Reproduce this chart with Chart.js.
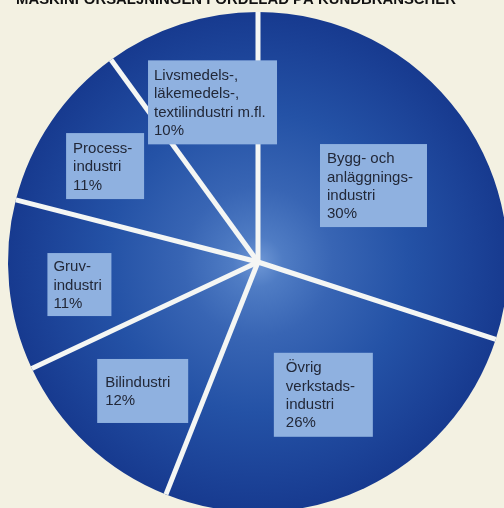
<!DOCTYPE html>
<html>
<head>
<meta charset="utf-8">
<script src="https://cdn.jsdelivr.net/npm/chart.js@4.4.1/dist/chart.umd.min.js"></script>
<style>
  html, body { margin: 0; padding: 0; background: #f3f1e2; }
  #wrap { position: relative; width: 504px; height: 508px; overflow: hidden; }
  canvas { display: block; }
</style>
</head>
<body>
<div id="wrap"><canvas id="c" width="504" height="508"></canvas></div>
<script>
// ---- data ----
const title = "MASKINFÖRSÄLJNINGEN FÖRDELAD PÅ KUNDBRANSCHER";
const categories = [
  ["Bygg- och", "anläggnings-", "industri"],
  ["Övrig", "verkstads-", "industri"],
  ["Bilindustri"],
  ["Gruv-", "industri"],
  ["Process-", "industri"],
  ["Livsmedels-,", "läkemedels-,", "textilindustri m.fl."]
];
const shares = [30, 26, 12, 11, 11, 10];

// ---- label box layout (style, not data) ----
const labelLayout = [
  { r: 0.554, da: 2.5,  w: 107, h: 83, px: 7 },
  { r: 0.592, da: -1.0, w: 99,  h: 84, px: 12 },
  { r: 0.692, da: -1.4, w: 91,  h: 64, px: 8 },
  { r: 0.720, da: -1.8, w: 64,  h: 63, px: 6 },
  { r: 0.722, da: -2.1, w: 78,  h: 66, px: 7 },
  { r: 0.664, da: 2.1,  w: 129, h: 84, px: 6 }
];

const PIE_RADIUS = 250;

function pieFill(context) {
  const chart = context.chart;
  const a = chart.chartArea;
  if (!a) return '#1d3a8b';
  const cx = (a.left + a.right) / 2, cy = (a.top + a.bottom) / 2;
  const g = chart.ctx.createRadialGradient(cx, cy, 0, cx, cy, PIE_RADIUS);
  g.addColorStop(0, '#6f98d6');
  g.addColorStop(0.1, '#4f7cc4');
  g.addColorStop(0.3, '#3865b4');
  g.addColorStop(0.6, '#2452a6');
  g.addColorStop(0.85, '#1c4398');
  g.addColorStop(1, '#173a8f');
  return g;
}

const separatorPlugin = {
  id: 'separators',
  afterDatasetsDraw(chart) {
    const ctx = chart.ctx;
    const meta = chart.getDatasetMeta(0);
    ctx.save();
    ctx.strokeStyle = '#f4f6f4';
    ctx.lineWidth = 5;
    ctx.lineCap = 'butt';
    meta.data.forEach(arc => {
      ctx.beginPath();
      ctx.moveTo(arc.x, arc.y);
      ctx.lineTo(arc.x + Math.cos(arc.startAngle) * arc.outerRadius,
                 arc.y + Math.sin(arc.startAngle) * arc.outerRadius);
      ctx.stroke();
    });
    ctx.restore();
  }
};

const labelPlugin = {
  id: 'labelBoxes',
  afterDatasetsDraw(chart) {
    const ctx = chart.ctx;
    const meta = chart.getDatasetMeta(0);
    ctx.save();
    ctx.font = '15px "Liberation Sans", Arial, sans-serif';
    ctx.textBaseline = 'middle';
    ctx.textAlign = 'left';
    meta.data.forEach((arc, i) => {
      const L = labelLayout[i];
      const mid = (arc.startAngle + arc.endAngle) / 2 + L.da * Math.PI / 180;
      const rr = arc.outerRadius * L.r;
      const cx = arc.x + Math.cos(mid) * rr;
      const cy = arc.y + Math.sin(mid) * rr;
      const x0 = cx - L.w / 2, y0 = cy - L.h / 2;
      ctx.fillStyle = '#8fb1e0';
      ctx.fillRect(x0, y0, L.w, L.h);
      const lines = categories[i].concat([shares[i] + '%']);
      const lh = 18.3;
      ctx.fillStyle = '#222838';
      lines.forEach((t, k) => {
        ctx.fillText(t, x0 + L.px, cy + (k - (lines.length - 1) / 2) * lh + 1);
      });
    });
    ctx.restore();
  }
};

const titlePlugin = {
  id: 'cutTitle',
  afterDraw(chart) {
    const ctx = chart.ctx;
    ctx.save();
    ctx.font = 'bold 14px "Liberation Sans", Arial, sans-serif';
    ctx.fillStyle = '#111';
    ctx.textBaseline = 'alphabetic';
    const w = ctx.measureText(title).width;
    const target = 440;
    ctx.translate(16, 4);
    ctx.scale(target / w, 1);
    ctx.fillText(title, 0, 0);
    ctx.restore();
  }
};

new Chart(document.getElementById('c'), {
  type: 'pie',
  data: {
    labels: categories.map(c => c.join(' ')),
    datasets: [{
      data: shares,
      backgroundColor: pieFill,
      borderWidth: 0,
      hoverOffset: 0
    }]
  },
  options: {
    responsive: false,
    animation: false,
    radius: PIE_RADIUS,
    rotation: 0,
    layout: { padding: { left: 12, right: 0, top: 16, bottom: 0 } },
    plugins: {
      legend: { display: false },
      tooltip: { enabled: false },
      title: { display: false }
    }
  },
  plugins: [separatorPlugin, labelPlugin, titlePlugin]
});
</script>
</body>
</html>
